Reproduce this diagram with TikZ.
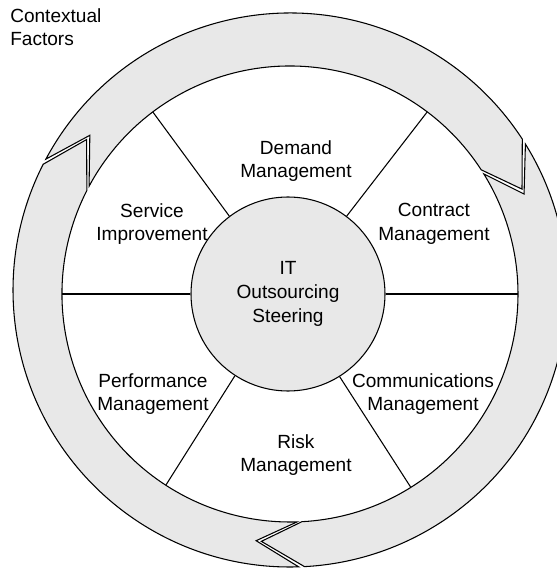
\documentclass[tikz,border=0pt]{standalone}
\usepackage{fontspec}
\setmainfont{Liberation Sans}
\usetikzlibrary{calc}

\definecolor{ringgray}{HTML}{E8E8E8}

\begin{document}
\begin{tikzpicture}[x=0.75pt, y=0.75pt,
    ringline/.style={draw=black, line width=0.8pt, fill=ringgray},
    spoke/.style={line width=0.8pt},
    label/.style={align=center, inner sep=0pt,
      font=\fontsize{14.3}{17.8}\selectfont}]
  \useasboundingbox (0,0) rectangle (557,569);
  \coordinate (O) at (290,275);
  \coordinate (P) at (290,279);
  \def\gap{1.2}

  % outer ring, three arrow segments
  \foreach \a in {153,33,-87}{
    \pgfmathsetmacro\b{\a-120}
    \draw[ringline]
      ($(P)+(\a-\gap:277)$) arc[start angle=\a-\gap, end angle=\b, radius=277]
      -- ($(P)+(\b-9.5:253)$)
      -- ($(O)+(\b:228)$) arc[start angle=\b, end angle=\a-\gap, radius=228]
      -- ($(P)+(\a-\gap-9.5:253)$) -- cycle;
  }

  % hub
  \node[draw, circle, line width=0.8pt, fill=ringgray, minimum size=145.5pt,
        inner sep=0pt, label] (hub) at (288,275) {IT\\Outsourcing\\Steering};

  % spokes
  \foreach \t in {0,53,127,180,237,302}{
    \coordinate (rim\t) at ($(O)+(\t:228)$);
    \draw[spoke] (hub.\t) -- (rim\t);
  }

  \node[label] (demand) at (296,408) {Demand\\Management};
  \node[label] (contract) at (434,345) {Contract\\Management};
  \node[label] (service) at (152,345) {Service\\Improvement};
  \node[label] (comm) at (423,175) {Communications\\Management};
  \node[label] (perf) at (153,175) {Performance\\Management};
  \node[label] (risk) at (296,114) {Risk\\Management};
  \node[label, align=left, anchor=north west] (ctx) at (10,561) {Contextual\\Factors};
\end{tikzpicture}
\end{document}
